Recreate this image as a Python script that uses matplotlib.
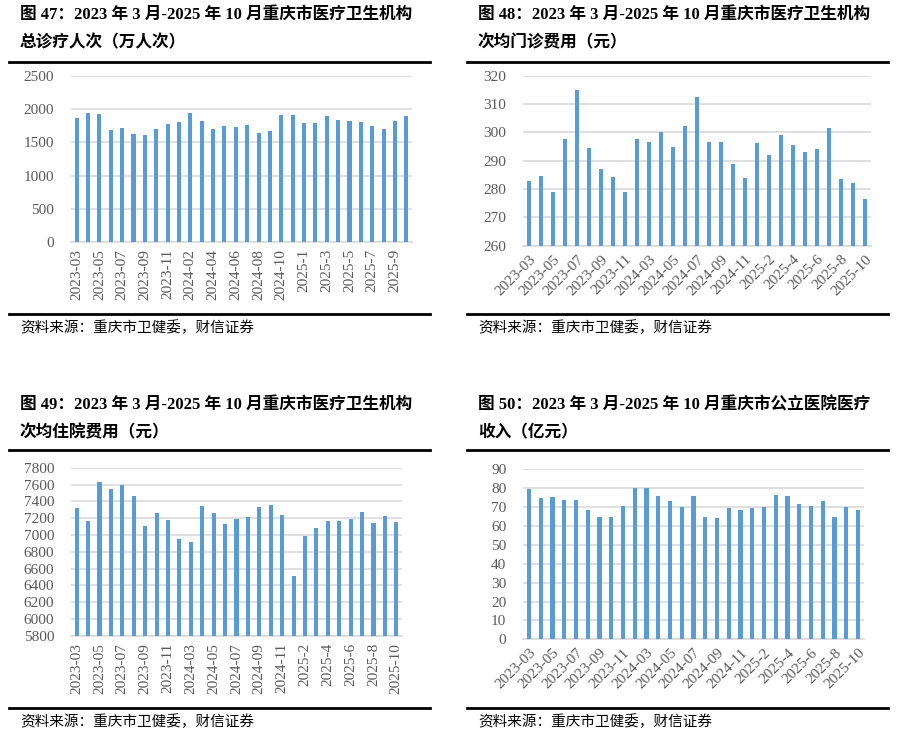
import matplotlib
matplotlib.use('Agg')
import numpy as np
from matplotlib import pyplot as plt

# ---- data ----
months_a = ['2023-03', '2023-04', '2023-05', '2023-06', '2023-07', '2023-08', '2023-09', '2023-10',
            '2023-11', '2023-12', '2024-02', '2024-03', '2024-04', '2024-05', '2024-06', '2024-07',
            '2024-08', '2024-09', '2024-10', '2024-12', '2025-1', '2025-2', '2025-3', '2025-4',
            '2025-5', '2025-6', '2025-7', '2025-8', '2025-9', '2025-10']
visits = [1865, 1945, 1925, 1685, 1710, 1620, 1615, 1700, 1775, 1805,
          1940, 1820, 1705, 1750, 1735, 1760, 1635, 1670, 1910, 1910,
          1790, 1795, 1895, 1840, 1820, 1805, 1740, 1705, 1825, 1900]

months_b = ['2023-03', '2023-04', '2023-05', '2023-06', '2023-07', '2023-08', '2023-09', '2023-10',
            '2023-11', '2024-01', '2024-03', '2024-04', '2024-05', '2024-06', '2024-07', '2024-08',
            '2024-09', '2024-10', '2024-11', '2025-1', '2025-2', '2025-3', '2025-4', '2025-5',
            '2025-6', '2025-7', '2025-8', '2025-9', '2025-10']
outpatient_cost = [283.0, 284.6, 279.0, 297.7, 315.1, 294.6, 287.2, 284.2, 278.9, 297.5,
                   296.6, 300.3, 294.8, 302.2, 312.5, 296.6, 296.7, 288.8, 284.0, 296.2,
                   292.1, 298.9, 295.7, 293.2, 294.0, 301.4, 283.6, 282.2, 276.4]
inpatient_cost = [7318, 7161, 7635, 7541, 7592, 7467, 7110, 7262, 7180, 6949,
                  6918, 7349, 7262, 7129, 7192, 7212, 7329, 7353, 7239, 6510,
                  6984, 7078, 7165, 7161, 7192, 7274, 7145, 7227, 7153]
hospital_income = [79.5, 74.6, 75.3, 73.7, 74.0, 68.7, 65.0, 65.0, 70.7, 80.1,
                   80.1, 75.6, 73.0, 70.0, 75.8, 64.8, 64.4, 69.3, 68.7, 69.6,
                   69.9, 76.6, 75.7, 71.6, 70.8, 73.0, 65.0, 70.3, 68.4]

titles = [
    ('图 47：2023 年 3 月-2025 年 10 月重庆市医疗卫生机构', '总诊疗人次（万人次）'),
    ('图 48：2023 年 3 月-2025 年 10 月重庆市医疗卫生机构', '次均门诊费用（元）'),
    ('图 49：2023 年 3 月-2025 年 10 月重庆市医疗卫生机构', '次均住院费用（元）'),
    ('图 50：2023 年 3 月-2025 年 10 月重庆市公立医院医疗', '收入（亿元）'),
]
source = '资料来源：重庆市卫健委，财信证券'

W, H = 901, 741
BLUE = '#5B9BD5'
GREY = '#595959'
GRID = '#D9D9D9'
SERIF = ['Liberation Serif', 'Noto Sans CJK SC']

fig = plt.figure(figsize=(W / 100, H / 100), dpi=100)


def px_axes(x0, x1, ytop, ybot):
    return fig.add_axes([x0 / W, 1 - ybot / H, (x1 - x0) / W, (ybot - ytop) / H])


def draw_panel(ax, labels, values, ylim, ystep, rot):
    n = len(values)
    x = np.arange(n)
    ax.bar(x, values, width=0.36, color=BLUE, zorder=3)
    ax.set_xlim(-0.5, n - 0.5)
    ax.set_ylim(*ylim)
    ax.set_yticks(np.arange(ylim[0], ylim[1] + ystep / 2, ystep))
    ax.yaxis.grid(True, color=GRID, lw=1.2, zorder=0)
    for s in ['top', 'right', 'left']:
        ax.spines[s].set_visible(False)
    ax.spines['bottom'].set_color(GRID)
    ax.spines['bottom'].set_linewidth(1.2)
    ax.set_xticks(x[::2])
    if rot == 90:
        ax.set_xticklabels(labels[::2], rotation=90, va='top', ha='center')
    else:
        ax.set_xticklabels(labels[::2], rotation=45, ha='right', rotation_mode='anchor')
    ax.tick_params(axis='both', length=0, colors=GREY, labelsize=11)
    ax.tick_params(axis='y', pad=12)
    ax.tick_params(axis='x', pad=5)
    for t in ax.get_xticklabels() + ax.get_yticklabels():
        t.set_family(SERIF)


def frame(x_left, x_line0, x_line1, y_title, y_top_line, y_bot_line, y_src, title):
    fig.text(x_left / W, 1 - y_title / H, title[0], family=SERIF, fontweight='bold',
             fontsize=12, va='center', ha='left')
    fig.text(x_left / W, 1 - (y_title + 28) / H, title[1], family=SERIF, fontweight='bold',
             fontsize=12, va='center', ha='left')
    for yy in (y_top_line, y_bot_line):
        fig.add_artist(plt.Line2D([x_line0 / W, x_line1 / W], [1 - yy / H, 1 - yy / H],
                                  color='black', lw=2))
    fig.text(x_left / W, 1 - y_src / H, source, family=SERIF, style='italic',
             fontsize=10.5, va='center', ha='left')


ax1 = px_axes(71, 412, 75.7, 242.3)
draw_panel(ax1, months_a, visits, (0, 2500), 500, 90)
frame(20, 9, 430, 15, 62, 314, 328, titles[0])

ax2 = px_axes(523, 871, 75.7, 245.7)
draw_panel(ax2, months_b, outpatient_cost, (260, 320), 10, 45)
frame(478, 467, 888, 15, 62, 314, 328, titles[1])

ax3 = px_axes(71, 402, 467.7, 635.7)
draw_panel(ax3, months_b, inpatient_cost, (5800, 7800), 200, 90)
frame(20, 9, 430, 405, 450, 708, 722, titles[2])

ax4 = px_axes(523, 864, 469.3, 639.3)
draw_panel(ax4, months_b, hospital_income, (0, 90), 10, 45)
frame(478, 467, 888, 405, 450, 708, 722, titles[3])

fig.savefig('out.png', dpi=100)
